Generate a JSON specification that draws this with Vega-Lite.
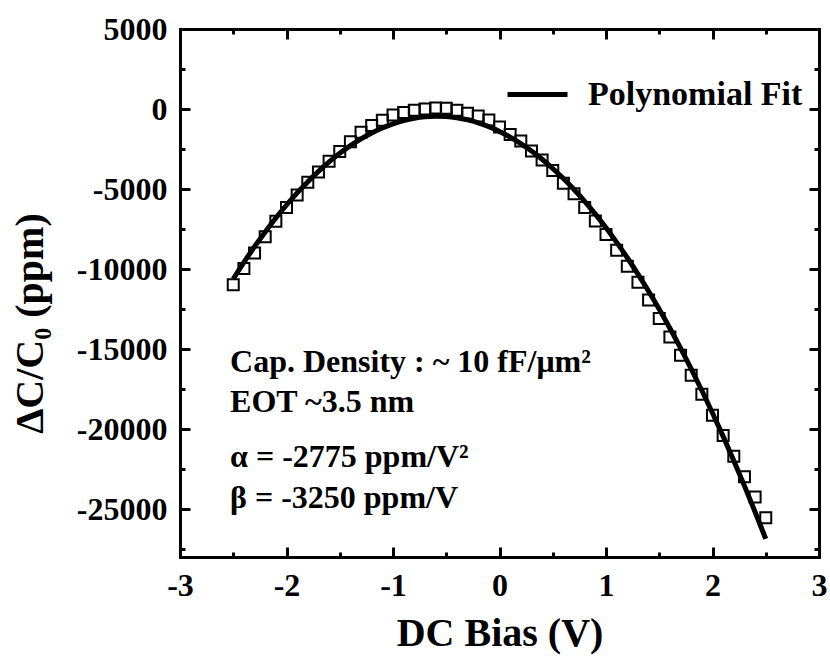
{
  "$schema": "https://vega.github.io/schema/vega-lite/v6.json",
  "width": 639,
  "height": 528,
  "autosize": {"type": "none"},
  "padding": {"left": 180, "top": 29, "right": 11, "bottom": 100},
  "background": "white",
  "config": {
    "view": {"stroke": null},
    "font": "Liberation Serif",
    "axis": {
      "grid": false,
      "domainColor": "black",
      "domainWidth": 3,
      "domainCap": "square",
      "tickColor": "black",
      "tickWidth": 3,
      "labelFont": "Liberation Serif",
      "labelFontWeight": "bold",
      "labelFontSize": 32,
      "labelColor": "black",
      "labelFlush": false,
      "labelOverlap": false,
      "titleFont": "Liberation Serif",
      "titleFontWeight": "bold",
      "titleFontSize": 40,
      "titleColor": "black"
    }
  },
  "datasets": {
    "cv": [
      {"v": -2.5, "meas": -10990, "fit": -10619},
      {"v": -2.4, "meas": -9970, "fit": -9584},
      {"v": -2.3, "meas": -9000, "fit": -8605},
      {"v": -2.2, "meas": -7980, "fit": -7681},
      {"v": -2.1, "meas": -7010, "fit": -6813},
      {"v": -2.0, "meas": -6150, "fit": -6000},
      {"v": -1.9, "meas": -5370, "fit": -5243},
      {"v": -1.8, "meas": -4580, "fit": -4541},
      {"v": -1.7, "meas": -3940, "fit": -3895},
      {"v": -1.6, "meas": -3270, "fit": -3304},
      {"v": -1.5, "meas": -2660, "fit": -2769},
      {"v": -1.4, "meas": -2050, "fit": -2289},
      {"v": -1.3, "meas": -1450, "fit": -1865},
      {"v": -1.2, "meas": -1030, "fit": -1496},
      {"v": -1.1, "meas": -700, "fit": -1183},
      {"v": -1.0, "meas": -370, "fit": -925},
      {"v": -0.9, "meas": -220, "fit": -723},
      {"v": -0.8, "meas": -80, "fit": -576},
      {"v": -0.7, "meas": 0, "fit": -485},
      {"v": -0.6, "meas": 70, "fit": -449},
      {"v": -0.5, "meas": 50, "fit": -469},
      {"v": -0.4, "meas": -80, "fit": -544},
      {"v": -0.3, "meas": -270, "fit": -675},
      {"v": -0.2, "meas": -430, "fit": -861},
      {"v": -0.1, "meas": -690, "fit": -1103},
      {"v": 0.0, "meas": -1120, "fit": -1400},
      {"v": 0.1, "meas": -1590, "fit": -1753},
      {"v": 0.2, "meas": -2000, "fit": -2161},
      {"v": 0.3, "meas": -2620, "fit": -2625},
      {"v": 0.4, "meas": -3180, "fit": -3144},
      {"v": 0.5, "meas": -3850, "fit": -3719},
      {"v": 0.6, "meas": -4640, "fit": -4349},
      {"v": 0.7, "meas": -5290, "fit": -5035},
      {"v": 0.8, "meas": -6160, "fit": -5776},
      {"v": 0.9, "meas": -7000, "fit": -6573},
      {"v": 1.0, "meas": -7850, "fit": -7425},
      {"v": 1.1, "meas": -8830, "fit": -8333},
      {"v": 1.2, "meas": -9830, "fit": -9296},
      {"v": 1.3, "meas": -10830, "fit": -10315},
      {"v": 1.4, "meas": -11940, "fit": -11389},
      {"v": 1.5, "meas": -13100, "fit": -12519},
      {"v": 1.6, "meas": -14250, "fit": -13704},
      {"v": 1.7, "meas": -15390, "fit": -14945},
      {"v": 1.8, "meas": -16640, "fit": -16241},
      {"v": 1.9, "meas": -17830, "fit": -17593},
      {"v": 2.0, "meas": -19140, "fit": -19000},
      {"v": 2.1, "meas": -20410, "fit": -20463},
      {"v": 2.2, "meas": -21710, "fit": -21981},
      {"v": 2.3, "meas": -22980, "fit": -23555},
      {"v": 2.4, "meas": -24250, "fit": -25184},
      {"v": 2.5, "meas": -25540, "fit": -26869}
    ],
    "notes": [
      {"x": -2.53, "y": -16456, "label": "Cap. Density : ~ 10 fF/μm²"},
      {"x": -2.53, "y": -18956, "label": "EOT ~3.5 nm"},
      {"x": -2.53, "y": -22394, "label": "α = -2775 ppm/V²"},
      {"x": -2.53, "y": -24956, "label": "β = -3250 ppm/V"}
    ]
  },
  "resolve": {"axis": {"x": "independent", "y": "independent"}},
  "layer": [
    {
      "data": {"name": "cv"},
      "mark": {"type": "point", "shape": "square", "filled": false, "size": 121, "strokeWidth": 2, "color": "black", "opacity": 1},
      "encoding": {
        "x": {
          "field": "v", "type": "quantitative",
          "scale": {"domain": [-3, 3], "nice": false, "zero": false},
          "axis": {
            "orient": "bottom",
            "values": [-3, -2.5, -2, -1.5, -1, -0.5, 0, 0.5, 1, 1.5, 2, 2.5, 3],
            "tickSize": {"condition": {"test": "datum.value % 1 === 0", "value": -10}, "value": -5},
            "labelExpr": "datum.value % 1 === 0 ? '' + datum.value : ''",
            "labelPadding": 48,
            "labelBaseline": "alphabetic",
            "title": "DC Bias (V)",
            "titleY": 88,
            "titleBaseline": "alphabetic"
          }
        },
        "y": {
          "field": "meas", "type": "quantitative",
          "scale": {"domain": [-28000, 5000], "nice": false, "zero": false},
          "axis": {
            "orient": "left",
            "values": [5000, 2500, 0, -2500, -5000, -7500, -10000, -12500, -15000, -17500, -20000, -22500, -25000, -27500],
            "tickSize": {"condition": {"test": "datum.value % 5000 === 0", "value": -10}, "value": -5},
            "labelExpr": "datum.value % 5000 === 0 ? '' + datum.value : ''",
            "labelPadding": 23,
            "title": "ΔC/C₀ (ppm)",
            "titleX": -138,
            "titleY": 294,
            "titleAngle": 270,
            "titleAlign": "center",
            "titleBaseline": "alphabetic"
          }
        }
      }
    },
    {
      "data": {"name": "cv"},
      "mark": {"type": "line", "strokeWidth": 5, "interpolate": "monotone"},
      "encoding": {
        "x": {
          "field": "v", "type": "quantitative",
          "axis": {
            "orient": "top",
            "values": [-3, -2.5, -2, -1.5, -1, -0.5, 0, 0.5, 1, 1.5, 2, 2.5, 3],
            "tickSize": {"condition": {"test": "datum.value % 1 === 0", "value": -10}, "value": -5},
            "labels": false,
            "title": null
          }
        },
        "y": {
          "field": "fit", "type": "quantitative",
          "axis": {
            "orient": "right",
            "values": [5000, 2500, 0, -2500, -5000, -7500, -10000, -12500, -15000, -17500, -20000, -22500, -25000, -27500],
            "tickSize": {"condition": {"test": "datum.value % 5000 === 0", "value": -10}, "value": -5},
            "labels": false,
            "title": null
          }
        },
        "color": {
          "datum": "Polynomial Fit",
          "type": "nominal",
          "scale": {"range": ["black"]},
          "legend": {
            "title": null,
            "orient": "none",
            "legendX": 325,
            "legendY": 33,
            "padding": 0,
            "symbolType": "stroke",
            "symbolSize": 3600,
            "symbolStrokeWidth": 5,
            "symbolStrokeColor": "black",
            "labelFont": "Liberation Serif",
            "labelFontWeight": "bold",
            "labelFontSize": 34,
            "labelColor": "black",
            "labelOffset": 18,
            "labelLimit": 400
          }
        }
      }
    },
    {
      "data": {"name": "notes"},
      "mark": {"type": "text", "align": "left", "baseline": "alphabetic", "font": "Liberation Serif", "fontWeight": "bold", "fontSize": 32, "color": "black"},
      "encoding": {
        "x": {"field": "x", "type": "quantitative", "axis": null},
        "y": {"field": "y", "type": "quantitative", "axis": null},
        "text": {"field": "label"}
      }
    }
  ]
}
